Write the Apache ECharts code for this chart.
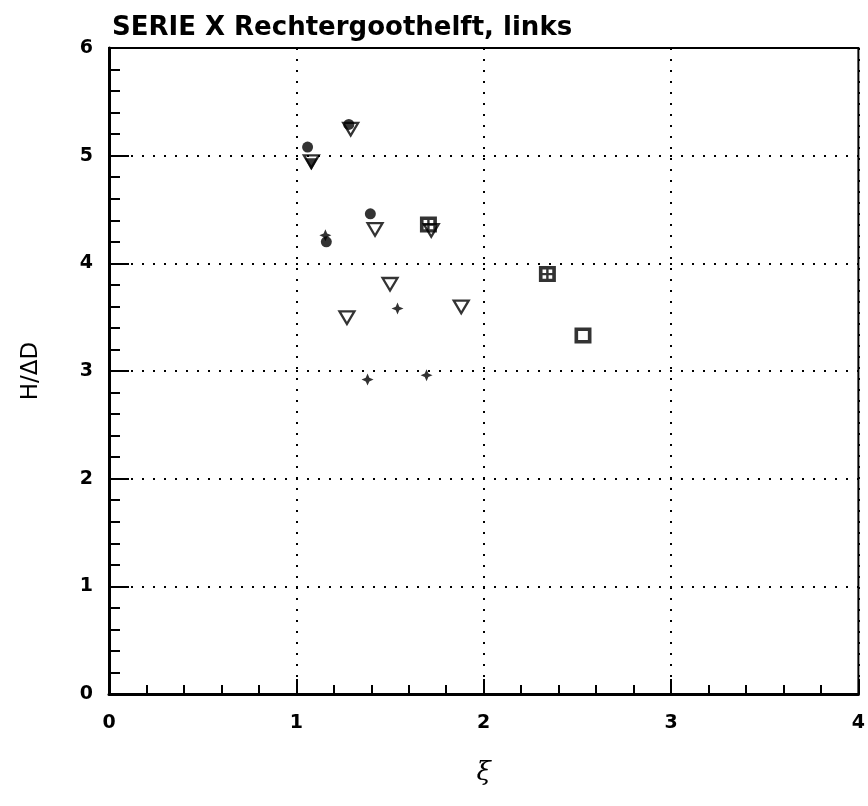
<!DOCTYPE html>
<html>
<head>
<meta charset="utf-8">
<script src="https://cdn.jsdelivr.net/npm/echarts@6/dist/echarts.min.js"></script>
<style>html,body{margin:0;padding:0;background:#fff}#c{width:868px;height:806px}</style>
</head>
<body>
<div id="c"></div>
<script>
// Data: [xi, H/ΔD]
var filledCircles = [[1.06, 5.08], [1.28, 5.29], [1.16, 4.20], [1.395, 4.46]];
var filledStars = [[1.155, 4.26], [1.54, 3.58], [1.38, 2.92], [1.695, 2.96]];
var openTriangles = [[1.29, 5.24], [1.08, 4.94], [1.42, 4.31], [1.72, 4.30], [1.50, 3.80], [1.27, 3.49], [1.88, 3.59]];
var filledTriangles = [[1.08, 4.92]];
var squaresPlus = [[1.705, 4.36], [2.34, 3.90]];
var openSquares = [[2.53, 3.33]];
var xTicks = [0, 1, 2, 3, 4];
var yTicks = [0, 1, 2, 3, 4, 5, 6];

var TRI_OPEN = 'path://M0,0 L14,0 L7,12 Z M3,1.7 L7,8.6 L11,1.7 Z';
var TRI_FILL = 'path://M0,0 L14,0 L7,12 Z';
var SQ_OPEN = 'path://M0,0 L14,0 L14,14 L0,14 Z M3,3 L3,11 L11,11 L11,3 Z';
var SQ_PLUS = 'path://M0,0 L14,0 L14,14 L0,14 Z M3,3 L3,6 L6,6 L6,3 Z M8,3 L8,6 L11,6 L11,3 Z M3,8 L3,11 L6,11 L6,8 Z M8,8 L8,11 L11,11 L11,8 Z';
var STAR = 'path://M5,0 L6.5,3.5 L10,5 L6.5,6.5 L5,10 L3.5,6.5 L0,5 L3.5,3.5 Z';

var chart = echarts.init(document.getElementById('c'), null, {renderer: 'canvas'});
var labelFont = {color: '#000', fontSize: 19, fontWeight: 'bold', fontFamily: 'DejaVu Sans'};
var dotted = {color: '#000', width: 2, type: [2, 9]};

chart.setOption({
  animation: false,
  backgroundColor: '#fff',
  title: {
    text: 'SERIE X Rechtergoothelft, links',
    left: 107, top: 10,
    textStyle: {color: '#000', fontSize: 26, fontWeight: 'bold', fontFamily: 'DejaVu Sans'}
  },
  grid: {left: 109, right: 5, top: 48, bottom: 112, show: true, borderColor: '#000', borderWidth: 2},
  xAxis: {
    type: 'value', min: xTicks[0], max: xTicks[xTicks.length - 1], interval: 1,
    name: 'ξ', nameLocation: 'middle', nameGap: 66,
    nameTextStyle: {color: '#000', fontSize: 26, fontFamily: 'DejaVu Serif', fontStyle: 'italic'},
    axisLine: {show: true, lineStyle: {color: '#000', width: 3}},
    axisTick: {show: true, inside: true, length: 15, lineStyle: {color: '#000', width: 2}},
    minorTick: {show: true, splitNumber: 5, length: 9, lineStyle: {color: '#000', width: 2}},
    axisLabel: Object.assign({margin: 20}, labelFont),
    splitLine: {show: true, lineStyle: dotted}
  },
  yAxis: {
    type: 'value', min: yTicks[0], max: yTicks[yTicks.length - 1], interval: 1,
    name: 'H/ΔD', nameLocation: 'middle', nameGap: 66,
    nameTextStyle: {color: '#000', fontSize: 23, fontFamily: 'DejaVu Sans'},
    axisLine: {show: true, lineStyle: {color: '#000', width: 3}},
    axisTick: {show: true, inside: true, length: 20, lineStyle: {color: '#000', width: 2}},
    minorTick: {show: true, splitNumber: 5, length: 11, lineStyle: {color: '#000', width: 2}},
    axisLabel: Object.assign({margin: 16}, labelFont),
    splitLine: {show: true, lineStyle: dotted}
  },
  series: [
    {type: 'scatter', data: openTriangles, symbol: TRI_OPEN, symbolSize: [19, 16], itemStyle: {color: '#000'}, z: 3},
    {type: 'scatter', data: filledTriangles, symbol: TRI_FILL, symbolSize: [13, 12], itemStyle: {color: '#000'}, z: 4},
    {type: 'scatter', data: filledCircles, symbol: 'circle', symbolSize: 11, itemStyle: {color: '#000'}, z: 4},
    {type: 'scatter', data: filledStars, symbol: STAR, symbolSize: 12, itemStyle: {color: '#000'}, z: 4},
    {type: 'scatter', data: squaresPlus, symbol: SQ_PLUS, symbolSize: [17, 16], itemStyle: {color: '#000'}, z: 4},
    {type: 'scatter', data: openSquares, symbol: SQ_OPEN, symbolSize: [17, 16], itemStyle: {color: '#000'}, z: 4}
  ]
});
</script>
</body>
</html>
